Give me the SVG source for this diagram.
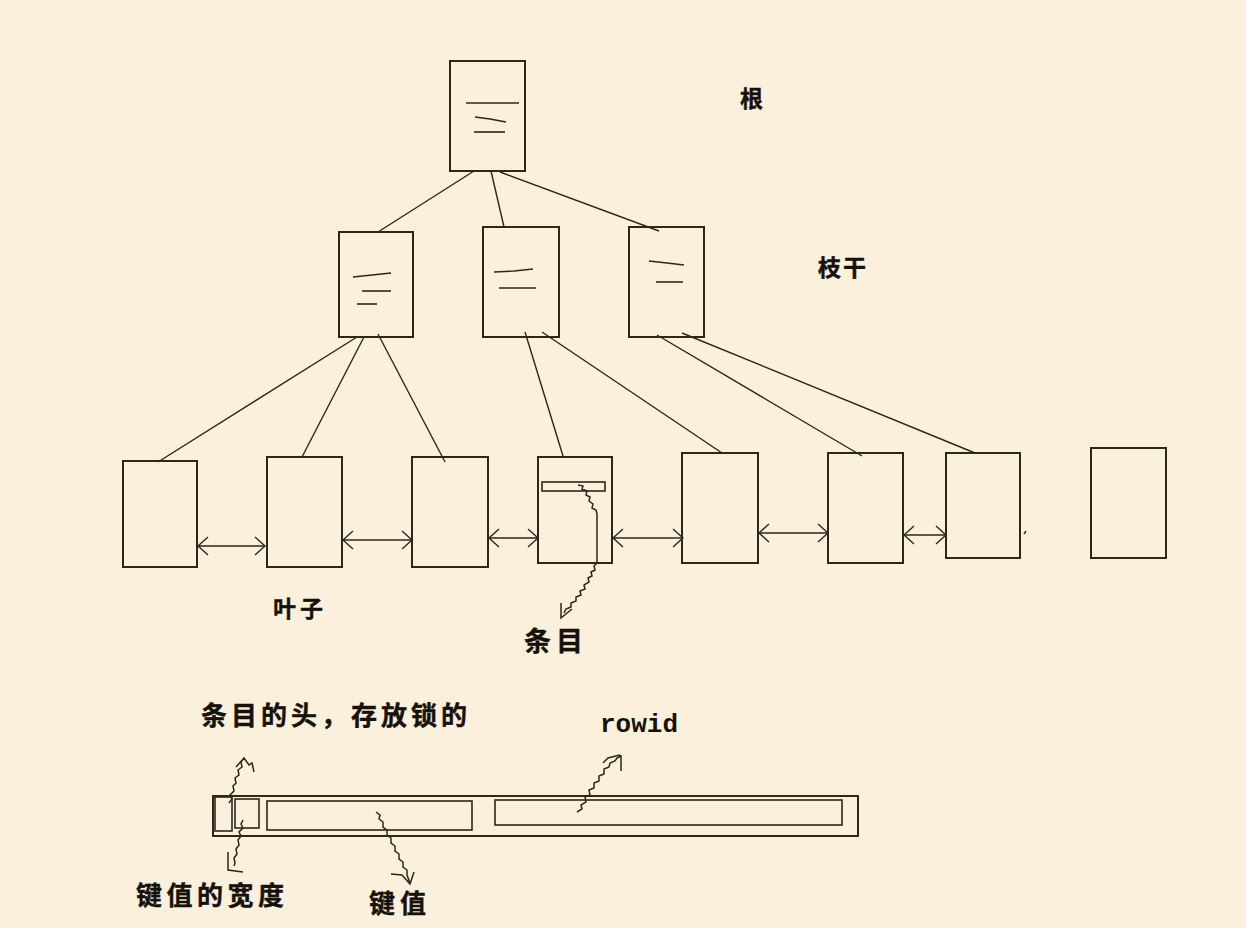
<svg xmlns="http://www.w3.org/2000/svg" width="1246" height="928" viewBox="0 0 1246 928">
<style>
.bx{fill:none;stroke:#2e2618;stroke-width:2}
.ln{fill:none;stroke:#2e2618;stroke-width:1.4}
.sq{fill:none;stroke:#2e2618;stroke-width:1.5;stroke-linejoin:miter}
.in{fill:none;stroke:#2e2618;stroke-width:1.6}
.cjk{font-family:"Noto Sans CJK SC","Noto Sans",sans-serif;font-weight:bold;fill:#15110b;stroke:#15110b;stroke-width:0.4}
.mono{font-family:"Liberation Mono","DejaVu Sans Mono",monospace;font-weight:bold;fill:#15110b}
</style>
<defs>
<marker id="ah" markerUnits="userSpaceOnUse" markerWidth="14" markerHeight="22" refX="11" refY="10" orient="auto-start-reverse" viewBox="0 0 14 20">
<path d="M1,1 L11,10 L1,19" fill="none" stroke="#2e2618" stroke-width="1.4"/>
</marker>
</defs>
<rect width="1246" height="928" fill="#faf0dc"/>

<g id="connectors">
<line class="ln" x1="474" y1="171" x2="378" y2="232"/>
<line class="ln" x1="491" y1="171" x2="504" y2="227"/>
<line class="ln" x1="500" y1="172" x2="659" y2="231"/>
<line class="ln" x1="357" y1="337" x2="158" y2="462"/>
<line class="ln" x1="364" y1="337" x2="302" y2="457"/>
<line class="ln" x1="378" y1="334" x2="445" y2="462"/>
<line class="ln" x1="525" y1="332" x2="563" y2="456"/>
<line class="ln" x1="542" y1="332" x2="722" y2="453"/>
<line class="ln" x1="657" y1="335" x2="862" y2="456"/>
<line class="ln" x1="682" y1="333" x2="975" y2="453"/>
<line class="ln" x1="198" y1="546" x2="265" y2="546" marker-start="url(#ah)" marker-end="url(#ah)"/>
<line class="ln" x1="343" y1="540" x2="412" y2="540" marker-start="url(#ah)" marker-end="url(#ah)"/>
<line class="ln" x1="489" y1="538" x2="538" y2="538" marker-start="url(#ah)" marker-end="url(#ah)"/>
<line class="ln" x1="613" y1="538" x2="683" y2="538" marker-start="url(#ah)" marker-end="url(#ah)"/>
<line class="ln" x1="759" y1="533" x2="828" y2="533" marker-start="url(#ah)" marker-end="url(#ah)"/>
<line class="ln" x1="904" y1="535" x2="946" y2="535" marker-start="url(#ah)" marker-end="url(#ah)"/>
<line class="ln" x1="1024" y1="534" x2="1026" y2="531"/>
<path class="sq" d="M578,485 L583,486 L582,489 L587,491 L586,495 L590,497 L589,501 L593,504 L592,508 L596,510 L597,514 L597,563 L594,566 L595,570 L591,572 L592,576 L588,578 L589,582 L584,585 L585,589 L580,591 L581,595 L576,597 L576,601 L571,603 L571,607 L566,609 L564,613 M561,603 L561,618 L572,609"/>
<path class="sq" d="M229,803 L232,799 L230,795 L234,791 L233,786 L236,783 L235,778 L239,775 L238,770 L242,767 L241,762 L244,758 M236,767 L244,758 L249,765 L252,763 L254,772"/>
<path class="sq" d="M243,820 L241,824 L243,828 L239,832 L241,836 L238,840 L239,845 L236,849 L237,854 L234,858 L235,863 L234,866 M228,852 L228,870 L243,872"/>
<path class="sq" d="M376,812 L380,815 L379,819 L383,822 L383,827 L387,830 L387,835 L391,838 L391,843 L395,846 L395,851 L399,854 L399,859 L403,862 L403,867 L407,870 L407,875 L410,883 M391,874 L402,875 L410,884 L414,872"/>
<path class="sq" d="M577,812 L582,809 L581,805 L586,802 L585,797 L590,795 L589,790 L594,788 L594,783 L599,781 L599,776 L604,774 L604,769 L609,767 L610,763 L615,761 L617,758 L621,756 M603,763 L608,758 L620,755 M621,755 L621,771"/>
</g>

<g id="root">
<rect class="bx" x="450" y="61" width="75" height="110"/>
<line class="in" x1="466" y1="103" x2="519" y2="103"/>
<polyline class="in" points="475,117 490,119 506,122"/>
<line class="in" x1="474" y1="132" x2="505" y2="132"/>
</g>
<g id="branch1">
<rect class="bx" x="339" y="232" width="74" height="105"/>
<polyline class="in" points="353,277 372,275 391,273"/>
<line class="in" x1="362" y1="291" x2="391" y2="291"/>
<line class="in" x1="357" y1="304" x2="377" y2="304"/>
</g>
<g id="branch2">
<rect class="bx" x="483" y="227" width="76" height="110"/>
<polyline class="in" points="494,272 514,271 533,269"/>
<line class="in" x1="499" y1="288" x2="536" y2="288"/>
</g>
<g id="branch3">
<rect class="bx" x="629" y="227" width="75" height="110"/>
<polyline class="in" points="649,261 667,263 684,265"/>
<line class="in" x1="656" y1="282" x2="683" y2="282"/>
</g>
<g id="leaf1"><rect class="bx" x="123" y="461" width="74" height="106"/></g>
<g id="leaf2"><rect class="bx" x="267" y="457" width="75" height="110"/></g>
<g id="leaf3"><rect class="bx" x="412" y="457" width="76" height="110"/></g>
<g id="leaf4">
<rect class="bx" x="538" y="457" width="74" height="106"/>
<rect class="in" x="542" y="482" width="63" height="9"/>
</g>
<g id="leaf5"><rect class="bx" x="682" y="453" width="76" height="110"/></g>
<g id="leaf6"><rect class="bx" x="828" y="453" width="75" height="110"/></g>
<g id="leaf7"><rect class="bx" x="946" y="453" width="74" height="105"/></g>
<g id="leaf8"><rect class="bx" x="1091" y="448" width="75" height="110"/></g>

<g id="entry">
<rect class="bx" x="213" y="796" width="645" height="40"/>
<rect class="in" x="215" y="797" width="17" height="34"/>
<rect class="in" x="235" y="799" width="24" height="29"/>
<rect class="in" x="267" y="801" width="205" height="29"/>
<rect class="in" x="495" y="800" width="347" height="25"/>
</g>

<g id="labels">
<text class="cjk" x="740" y="107" font-size="23">根</text>
<text class="cjk" x="818" y="276" font-size="23" letter-spacing="2">枝干</text>
<text class="cjk" x="273" y="617" font-size="23" letter-spacing="4">叶子</text>
<text class="cjk" x="524" y="651" font-size="27" letter-spacing="5">条目</text>
<text class="cjk" x="201" y="725" font-size="26" letter-spacing="4">条目的头，存放锁的</text>
<text class="mono" x="600" y="732" font-size="26">rowid</text>
<text class="cjk" x="136" y="905" font-size="26" letter-spacing="4.5">键值的宽度</text>
<text class="cjk" x="369" y="913" font-size="26" letter-spacing="5">键值</text>
</g>
</svg>
